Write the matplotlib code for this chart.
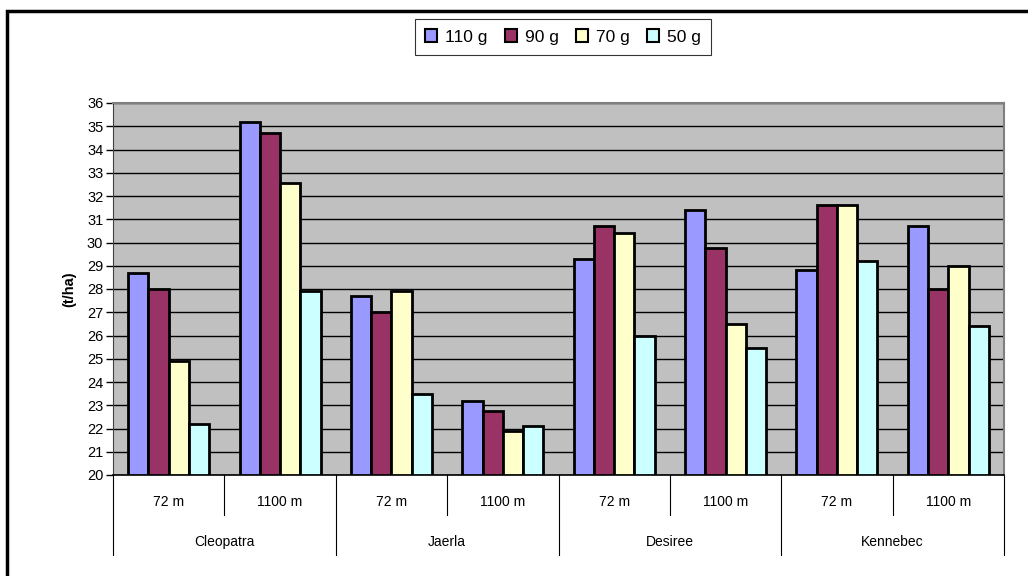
import matplotlib.pyplot as plt
from matplotlib.patches import Patch, Rectangle
import numpy as np

plt.rcParams['font.family'] = ['Liberation Sans', 'DejaVu Sans']

varieties = ['Cleopatra', 'Jaerla', 'Desiree', 'Kennebec']
altitudes = ['72 m', '1100 m']
series = ['110 g', '90 g', '70 g', '50 g']
colors = ['#9999FF', '#993366', '#FFFFCC', '#CCFFFF']

# one value per (variety, altitude) pair, in order
g110 = [28.7, 35.2, 27.7, 23.2, 29.3, 31.4, 28.8, 30.7]
g90 = [28.0, 34.7, 27.0, 22.75, 30.7, 29.75, 31.6, 28.0]
g70 = [24.9, 32.55, 27.9, 21.9, 30.4, 26.5, 31.6, 29.0]
g50 = [22.2, 27.9, 23.5, 22.1, 26.0, 25.45, 29.2, 26.4]
values = [g110, g90, g70, g50]

fig = plt.figure(figsize=(10.28, 5.76), dpi=100)
W, H = 1028, 576
left, right, top, bottom = 113, 1004, 103, 475
ax = fig.add_axes([left / W, 1 - bottom / H, (right - left) / W, (bottom - top) / H])
ax.set_facecolor('#C0C0C0')

n = len(g110)
x = np.arange(n)
w = 1 / 5.5
for i, (vals, c) in enumerate(zip(values, colors)):
    ax.bar(x + (i - 1.5) * w, [v - 20 for v in vals], w, bottom=20, color=c,
           edgecolor='black', linewidth=2, zorder=3)

ax.set_xlim(-0.5, n - 0.5)
ax.set_ylim(20, 36)
ax.set_yticks(range(20, 37))
ax.yaxis.grid(True, color='black', linewidth=1, zorder=1)
ax.set_axisbelow(True)
ax.tick_params(axis='y', length=5, width=1, labelsize=10.5, pad=2)
ax.set_xticks([])
ax.set_ylabel('(t/ha)', fontsize=10.5, fontweight='bold', labelpad=8)

for s in ['top', 'right']:
    ax.spines[s].set_color('#808080')
    ax.spines[s].set_linewidth(1.5)
ax.spines['left'].set_color('#404040')
ax.spines['bottom'].set_color('black')
ax.spines['bottom'].set_linewidth(1.2)

# two-level category axis
ah = bottom - top
sub_end = -(515 - bottom) / ah
grp_end = -(555 - bottom) / ah
tr = ax.get_xaxis_transform()
for k in range(n + 1):
    xe = k - 0.5
    end = grp_end if k % 2 == 0 else sub_end
    ax.plot([xe, xe], [0, end], color='black', linewidth=0.8, transform=tr, clip_on=False)
for k in range(n):
    ax.text(k, -(502 - bottom) / ah, altitudes[k % 2], transform=tr,
            ha='center', va='center', fontsize=10)
for j, v in enumerate(varieties):
    ax.text(2 * j + 0.5, -(542 - bottom) / ah, v, transform=tr,
            ha='center', va='center', fontsize=10)

handles = [Patch(facecolor=c, edgecolor='black', linewidth=1.5) for c in colors]
leg = fig.legend(handles, series, ncol=4, loc='center', bbox_to_anchor=(563 / W, 1 - 37 / H),
                 fontsize=12.5, frameon=True, fancybox=False, edgecolor='black',
                 handlelength=0.7, handleheight=0.7, handletextpad=0.45, columnspacing=1.0,
                 borderpad=0.6, borderaxespad=0)
leg.get_frame().set_linewidth(0.8)

fig.add_artist(Rectangle((7 / W, -0.1), 1.2, 1 - 11 / H + 0.1, fill=False,
                         edgecolor='black', linewidth=2.5, transform=fig.transFigure))

fig.savefig('out.png', dpi=100)
